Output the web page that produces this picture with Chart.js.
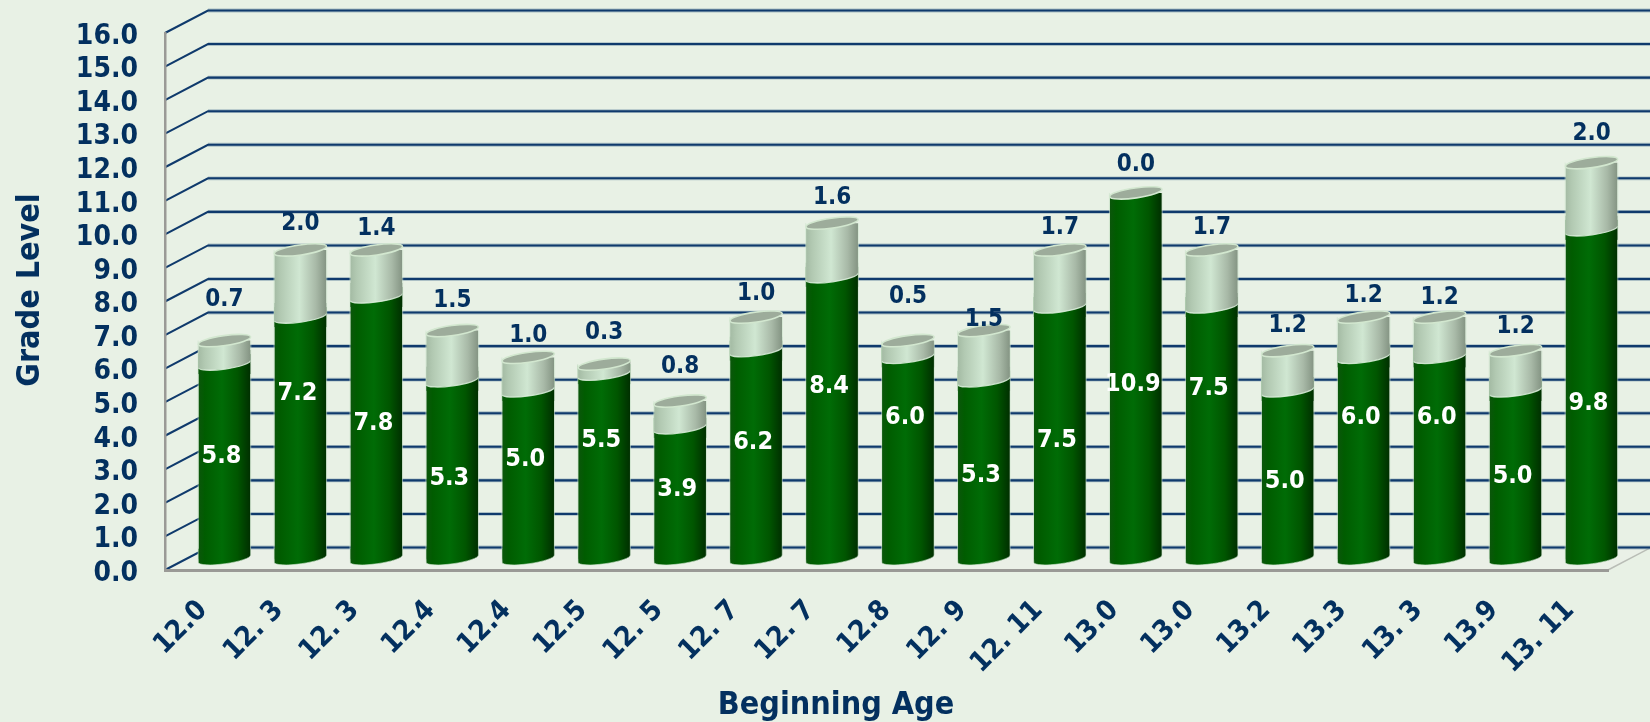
<!DOCTYPE html>
<html>
<head>
    <meta charset="utf-8">
    <title>Grade Level by Beginning Age</title>
    <script src="https://cdn.jsdelivr.net/npm/chart.js"></script>
    <style>
        html, body { margin: 0; padding: 0; background: #e8f1e5; overflow: hidden; }
        canvas { display: block; }
    </style>
</head>
<body>
    <canvas id="myChart" width="1650" height="722"></canvas>
    <script>
        // data
        var ages = ['12.0', '12. 3', '12. 3', '12.4', '12.4', '12.5', '12. 5', '12. 7', '12. 7', '12.8', '12. 9', '12. 11', '13.0', '13.0', '13.2', '13.3', '13. 3', '13.9', '13. 11'];
        var beginning = [5.8, 7.2, 7.8, 5.3, 5.0, 5.5, 3.9, 6.2, 8.4, 6.0, 5.3, 7.5, 10.9, 7.5, 5.0, 6.0, 6.0, 5.0, 9.8];
        var gain = [0.7, 2.0, 1.4, 1.5, 1.0, 0.3, 0.8, 1.0, 1.6, 0.5, 1.5, 1.7, 0.0, 1.7, 1.2, 1.2, 1.2, 1.2, 2.0];
        var gradeTicks = ['0.0', '1.0', '2.0', '3.0', '4.0', '5.0', '6.0', '7.0', '8.0', '9.0', '10.0', '11.0', '12.0', '13.0', '14.0', '15.0', '16.0'];

        // the labels in the original are hand placed, these are pixel nudges from the default spot
        var lowerNudge = [-5, -44, -4, 9, -15, -26, -4, -12, -31, -41, 6, 8, 9, -44, 7, -41, -41, 2, 9];
        var upperNudge = [-41, -26, -21, -30, -22, -31, -34, -23, -25, -44, -11, -22, -28, -22, -25, -21, -19, -24, -29];

        var navy = '#03305f';
        var fontName = '"DejaVu Sans Condensed", "DejaVu Sans", sans-serif';
        var depthX = 43, depthY = 22.5;
        var barShare = 0.684;
        var capRy = 5, capTilt = -8 * Math.PI / 180;
        var greenStops = [[0, '#0b560b'], [0.12, '#005c00'], [0.45, '#006c06'], [0.75, '#005600'], [1, '#002f00']];
        var paleStops = [[0, '#a4bba4'], [0.12, '#b2c9b2'], [0.48, '#d0e7d2'], [0.8, '#a8b9a7'], [1, '#849483']];

        function sideGradient(ctx, x, halfW, stops) {
            var g = ctx.createLinearGradient(x - halfW, 0, x + halfW, 0);
            stops.forEach(function (s) { g.addColorStop(s[0], s[1]); });
            return g;
        }

        function scriptedFill(stops) {
            return function (c) {
                if (!c.chart.chartArea || c.dataIndex === undefined) return stops[2][1];
                var x = c.chart.scales.x.getPixelForValue(c.dataIndex);
                var halfW = barShare * (c.chart.chartArea.width / ages.length) / 2;
                return sideGradient(c.chart.ctx, x, halfW, stops);
            };
        }

        var cylinders = {
            id: 'cylinders',
            // back wall, floor and the grid lines that run round them
            beforeDraw: function (chart) {
                var ctx = chart.ctx, a = chart.chartArea, y = chart.scales.y;
                ctx.save();
                ctx.fillStyle = '#e8f1e5';
                ctx.fillRect(0, 0, chart.width, chart.height);
                ctx.fillStyle = '#eaf0e7';
                ctx.beginPath();
                ctx.moveTo(a.left, a.bottom);
                ctx.lineTo(a.left + depthX, a.bottom - depthY);
                ctx.lineTo(a.right + depthX, a.bottom - depthY);
                ctx.lineTo(a.right, a.bottom);
                ctx.closePath();
                ctx.fill();
                ctx.strokeStyle = '#b9bdb6';
                ctx.lineWidth = 1.5;
                ctx.beginPath();
                ctx.moveTo(a.right, a.bottom);
                ctx.lineTo(a.right + depthX, a.bottom - depthY);
                ctx.stroke();
                y.ticks.forEach(function (t) {
                    var py = y.getPixelForValue(t.value);
                    ctx.strokeStyle = 'rgba(120,150,170,0.55)';
                    ctx.lineWidth = 3.8;
                    ctx.beginPath();
                    ctx.moveTo(a.left + depthX, py - depthY);
                    ctx.lineTo(a.right + depthX, py - depthY);
                    ctx.stroke();
                    ctx.strokeStyle = '#0f3a6c';
                    ctx.lineWidth = 2.1;
                    ctx.beginPath();
                    ctx.moveTo(a.left, py);
                    ctx.lineTo(a.left + depthX, py - depthY);
                    ctx.lineTo(a.right + depthX, py - depthY);
                    ctx.stroke();
                });
                ctx.restore();
            },
            beforeDatasetsDraw: function (chart) {
                var ctx = chart.ctx;
                var low = chart.getDatasetMeta(0).data, up = chart.getDatasetMeta(1).data;
                ctx.save();
                ctx.translate(depthX / 2, -depthY / 2);
                // cut the flat library bars down to the cylinder outline
                ctx.beginPath();
                low.forEach(function (b, i) {
                    var rx = b.width / 2 + 0.4;
                    ctx.moveTo(b.x - rx, up[i].y);
                    ctx.ellipse(b.x, up[i].y, rx, capRy, capTilt, Math.PI, 2 * Math.PI);
                    ctx.ellipse(b.x, b.base, rx, capRy, capTilt, 0, Math.PI);
                    ctx.closePath();
                });
                ctx.clip();
                low.forEach(function (b) {
                    ctx.fillStyle = sideGradient(ctx, b.x, b.width / 2, greenStops);
                    ctx.fillRect(b.x - b.width / 2 - 1, b.base - 10, b.width + 2, 20);
                });
            },
            afterDatasetsDraw: function (chart) {
                var ctx = chart.ctx;
                var low = chart.getDatasetMeta(0).data, up = chart.getDatasetMeta(1).data;
                var tiltRise = Math.sin(-capTilt);
                // join between the dark and the pale part
                low.forEach(function (b, i) {
                    if (gain[i] <= 0) return;
                    var rx = b.width / 2 + 0.4;
                    ctx.fillStyle = sideGradient(ctx, b.x, b.width / 2, greenStops);
                    ctx.fillRect(b.x - b.width / 2 - 2, b.y - 10, b.width + 4, 20);
                    ctx.fillStyle = sideGradient(ctx, b.x, b.width / 2, paleStops);
                    ctx.beginPath();
                    ctx.ellipse(b.x, b.y, rx, capRy, capTilt, 0, Math.PI);
                    ctx.lineTo(b.x - rx - 3, b.y + rx * tiltRise);
                    ctx.lineTo(b.x - rx - 3, b.y - 14);
                    ctx.lineTo(b.x + rx + 3, b.y - 14);
                    ctx.lineTo(b.x + rx + 3, b.y - rx * tiltRise);
                    ctx.closePath();
                    ctx.fill();
                    ctx.strokeStyle = 'rgba(225,242,225,0.85)';
                    ctx.lineWidth = 1.3;
                    ctx.beginPath();
                    ctx.ellipse(b.x, b.y, rx, capRy, capTilt, 0, Math.PI);
                    ctx.stroke();
                });
                ctx.restore();

                ctx.save();
                ctx.translate(depthX / 2, -depthY / 2);
                low.forEach(function (b, i) {
                    var rx = b.width / 2 + 0.4, topY = up[i].y;
                    // thin light rim down the sides and round the base
                    ctx.strokeStyle = 'rgba(205,228,205,0.6)';
                    ctx.lineWidth = 1;
                    ctx.beginPath();
                    ctx.moveTo(b.x - rx, topY);
                    ctx.lineTo(b.x - rx, b.base);
                    ctx.ellipse(b.x, b.base, rx, capRy, capTilt, Math.PI, 0, true);
                    ctx.lineTo(b.x + rx, topY);
                    ctx.stroke();
                    // top cap
                    ctx.fillStyle = '#9dac9b';
                    ctx.strokeStyle = '#d2e7cf';
                    ctx.lineWidth = 1.6;
                    ctx.beginPath();
                    ctx.ellipse(b.x, topY, rx, capRy, capTilt, 0, 2 * Math.PI);
                    ctx.fill();
                    ctx.stroke();
                });

                // value labels
                ctx.textAlign = 'center';
                ctx.textBaseline = 'middle';
                low.forEach(function (b, i) {
                    ctx.fillStyle = '#ffffff';
                    ctx.font = 'bold 25px ' + fontName;
                    ctx.fillText(beginning[i].toFixed(1), b.x - 3, (b.y + b.base) / 2 + lowerNudge[i]);
                    ctx.fillStyle = navy;
                    ctx.font = 'bold 24px ' + fontName;
                    ctx.fillText(gain[i].toFixed(1), b.x, up[i].y + upperNudge[i]);
                });
                ctx.restore();

                // axis titles sit off centre in the original
                ctx.save();
                ctx.fillStyle = navy;
                ctx.font = 'bold 32px ' + fontName;
                ctx.textAlign = 'center';
                ctx.textBaseline = 'middle';
                ctx.fillText('Beginning Age', 836, 706);
                ctx.translate(31, 290);
                ctx.rotate(-Math.PI / 2);
                ctx.fillText('Grade Level', 0, 0);
                ctx.restore();
            }
        };

        var chart = new Chart(document.getElementById('myChart').getContext('2d'), {
            type: 'bar',
            data: {
                labels: ages,
                datasets: [
                    { label: 'Beginning', data: beginning, backgroundColor: scriptedFill(greenStops), borderWidth: 0 },
                    { label: 'Gain', data: gain, backgroundColor: scriptedFill(paleStops), borderWidth: 0 }
                ]
            },
            options: {
                responsive: false,
                animation: false,
                barPercentage: barShare,
                categoryPercentage: 1,
                layout: { padding: { top: 33, right: 42, left: 0, bottom: 0 } },
                plugins: { legend: { display: false }, tooltip: { enabled: false } },
                scales: {
                    x: {
                        stacked: true,
                        afterFit: function (s) { s.height = 152; },
                        grid: { display: false, drawTicks: false },
                        border: { display: true, color: '#9a9a96', width: 3 },
                        ticks: {
                            autoSkip: false,
                            minRotation: 45,
                            maxRotation: 45,
                            padding: 24,
                            color: navy,
                            font: { family: fontName, size: 28, weight: 'bold' }
                        }
                    },
                    y: {
                        stacked: true,
                        min: 0,
                        max: 16,
                        afterFit: function (s) { s.width = 165; },
                        // tick padding also pads the top of the plot, so most of the gap is an unseen tick length
                        grid: { display: false, drawTicks: true, tickLength: 14 },
                        border: { display: true, color: '#9a9a96', width: 2.5 },
                        ticks: {
                            stepSize: 1,
                            autoSkip: false,
                            padding: 13,
                            labelOffset: 3.5,
                            color: navy,
                            font: { family: fontName, size: 28, weight: 'bold' },
                            callback: function (v, i) { return gradeTicks[i]; }
                        }
                    }
                }
            },
            plugins: [cylinders]
        });
    </script>
</body>
</html>
